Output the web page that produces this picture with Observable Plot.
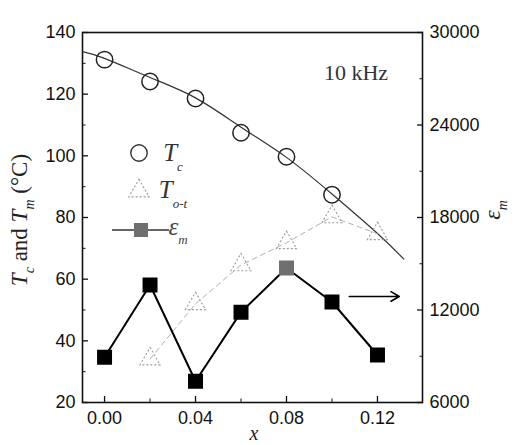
<!DOCTYPE html>
<html><head><meta charset="utf-8">
<script src="https://cdn.jsdelivr.net/npm/d3@7"></script>
<script src="https://cdn.jsdelivr.net/npm/@observablehq/plot@0.6"></script>
<style>body{margin:0;background:#fff;} #chart svg{display:block;}</style>
</head><body><div id="chart"></div>
<script>
// ---- data ----
const tcX = [0.00, 0.02, 0.04, 0.06, 0.08, 0.10];
const tcValues = [131.2, 124.1, 118.6, 107.5, 99.7, 87.4];          // T_c (°C)
const totX = [0.02, 0.04, 0.06, 0.08, 0.10, 0.12];
const totValues = [34.1, 52, 64.6, 71.8, 80.2, 74.7];              // T_o-t (°C)
const epsX = [0.00, 0.02, 0.04, 0.06, 0.08, 0.10, 0.12];
const epsValues = [8940, 13620, 7380, 11860, 14720, 12520, 9080];  // ε_m
const fitX = [-0.0097, 0.00, 0.02, 0.04, 0.06, 0.08, 0.10, 0.12, 0.1316];
const fitValues = [133.8, 131.6, 125.4, 118.8, 109.3, 99.5, 87.6, 74.8, 66.5]; // T_c fit line
const leftTicks = [20, 40, 60, 80, 100, 120, 140];
const leftMinor = [30, 50, 70, 90, 110, 130];
const rightTicks = [6000, 12000, 18000, 24000, 30000];
const rightMinor = [9000, 15000, 21000, 27000];
const xTicks = [0.00, 0.04, 0.08, 0.12];
const xMinor = [0.02, 0.06, 0.10];
const arrowX = [0.1076, 0.1296];
const arrowEps = [12880, 12880];
const highlightX = 0.08;

// right axis (ε_m, 6000–30000) shares the frame with left axis (20–140)
const toLeft = e => 20 + (e - 6000) / 200;

const tcData = tcX.map((x, i) => ({x, y: tcValues[i]}));
const totData = totX.map((x, i) => ({x, y: totValues[i]}));
const epsData = epsX.map((x, i) => ({x, eps: epsValues[i]}));
const fitData = fitX.map((x, i) => ({x, y: fitValues[i]}));
const arrowData = [{x1: arrowX[0], x2: arrowX[1], e1: arrowEps[0], e2: arrowEps[1]}];

const plot = Plot.plot({
  width: 519, height: 445,
  marginLeft: 82, marginRight: 97, marginTop: 32, marginBottom: 43,
  x: {domain: [-0.0097, 0.1398]},
  y: {domain: [20, 140]},
  style: {fontFamily: "'Liberation Sans', Arial, sans-serif", fontSize: "18px", color: "#111", background: "#fff"},
  marks: [
    Plot.frame({stroke: "#111", strokeWidth: 1.6}),
    Plot.axisX({ticks: xTicks, tickFormat: d3.format(".2f"), tickSize: -6, tickPadding: 15, label: null, strokeWidth: 1.3}),
    Plot.axisX({ticks: xMinor, tickFormat: () => "", tickSize: -3.5, label: null}),
    Plot.axisY({ticks: leftTicks, tickSize: -6, tickPadding: 13, label: null, strokeWidth: 1.3}),
    Plot.axisY({ticks: leftMinor, tickFormat: () => "", tickSize: -3.5, label: null}),
    Plot.axisY({anchor: "right", ticks: rightTicks.map(toLeft), tickFormat: d => String(Math.round(6000 + (d - 20) * 200)),
      tickSize: -6, tickPadding: 13, label: null, strokeWidth: 1.3}),
    Plot.axisY({anchor: "right", ticks: rightMinor.map(toLeft), tickFormat: () => "", tickSize: -3.5, label: null}),
    // T_c fit
    Plot.line(fitData, {x: "x", y: "y", curve: "natural", stroke: "#333", strokeWidth: 1.2}),
    // T_o-t
    Plot.line(totData, {x: "x", y: "y", stroke: "#b0b0b0", strokeWidth: 1, strokeDasharray: "5,4"}),
    Plot.dot(totData, {x: "x", y: "y", symbol: "triangle", r: 7.5, stroke: "#9a9a9a", strokeWidth: 1.1, strokeDasharray: "2,2", fill: "none"}),
    // T_c
    Plot.dot(tcData, {x: "x", y: "y", r: 8.2, stroke: "#222", strokeWidth: 1.5, fill: "none"}),
    // ε_m
    Plot.line(epsData, {x: "x", y: d => toLeft(d.eps), stroke: "#000", strokeWidth: 2}),
    Plot.dot(epsData.filter(d => d.x !== highlightX), {x: "x", y: d => toLeft(d.eps), symbol: "square", r: 7.6, fill: "#000", stroke: "#000"}),
    Plot.dot(epsData.filter(d => d.x === highlightX), {x: "x", y: d => toLeft(d.eps), symbol: "square", r: 7.6, fill: "#6f6f6f", stroke: "#6f6f6f"}),
    Plot.arrow(arrowData, {x1: "x1", x2: "x2", y1: d => toLeft(d.e1), y2: d => toLeft(d.e2), stroke: "#000", strokeWidth: 1.6, headLength: 9, bend: 0})
  ]
});
document.getElementById("chart").append(plot);

// ---- annotations: axis titles, legend, frequency note ----
const svg = d3.select(plot);
const serif = "'Liberation Serif', 'Times New Roman', serif";

// left axis title
const lt = svg.append("text").attr("transform", "translate(27,220) rotate(-90)")
  .attr("text-anchor", "middle").attr("font-family", serif).attr("font-size", 23).attr("fill", "#222");
lt.append("tspan").attr("font-style", "italic").text("T");
lt.append("tspan").attr("font-size", 14).attr("font-style", "italic").attr("dy", 7).text("c");
lt.append("tspan").attr("dy", -7).text(" and ");
lt.append("tspan").attr("font-style", "italic").text("T");
lt.append("tspan").attr("font-size", 14).attr("font-style", "italic").attr("dy", 7).text("m");
lt.append("tspan").attr("dy", -7).text(" (°C)");

// right axis title
const rt = svg.append("text").attr("transform", "translate(500,210) rotate(-90)")
  .attr("text-anchor", "middle").attr("font-family", serif).attr("font-size", 24).attr("fill", "#222");
rt.append("tspan").attr("font-style", "italic").text("ε");
rt.append("tspan").attr("font-size", 14).attr("font-style", "italic").attr("dy", 7).text("m");

// x axis title
svg.append("text").attr("x", 254).attr("y", 440).attr("text-anchor", "middle")
  .attr("font-family", serif).attr("font-style", "italic").attr("font-size", 20).attr("fill", "#222").text("x");

// frequency note
svg.append("text").attr("x", 356).attr("y", 72).attr("text-anchor", "middle").attr("dominant-baseline", "central")
  .attr("font-family", serif).attr("font-size", 22).attr("fill", "#333").text("10 kHz");

// legend
const lg = svg.append("g");
lg.append("circle").attr("cx", 139).attr("cy", 153).attr("r", 8.2).attr("fill", "none").attr("stroke", "#333").attr("stroke-width", 1.4);
const t1 = lg.append("text").attr("x", 173).attr("y", 161).attr("font-family", serif).attr("font-size", 25).attr("fill", "#333");
t1.append("tspan").attr("font-style", "italic").text("T");
t1.append("tspan").attr("font-size", 13).attr("font-style", "italic").attr("dy", 10).text("c");

lg.append("path").attr("d", d3.symbol(d3.symbolTriangle, 180)()).attr("transform", "translate(139,191)")
  .attr("fill", "none").attr("stroke", "#9a9a9a").attr("stroke-dasharray", "2,2").attr("stroke-width", 1.1);
const t2 = lg.append("text").attr("x", 173).attr("y", 198).attr("font-family", serif).attr("font-size", 25).attr("fill", "#333");
t2.append("tspan").attr("font-style", "italic").text("T");
t2.append("tspan").attr("font-size", 13).attr("font-style", "italic").attr("dy", 10).text("o-t");

lg.append("line").attr("x1", 112).attr("x2", 169).attr("y1", 230).attr("y2", 230).attr("stroke", "#333").attr("stroke-width", 1.6);
lg.append("rect").attr("x", 134).attr("y", 223).attr("width", 14).attr("height", 14).attr("fill", "#6f6f6f");
const t3 = lg.append("text").attr("x", 178).attr("y", 235).attr("font-family", serif).attr("font-size", 25).attr("fill", "#444");
t3.append("tspan").attr("font-style", "italic").text("ε");
t3.append("tspan").attr("font-size", 13).attr("font-style", "italic").attr("dy", 9).text("m");
</script>
</body></html>
